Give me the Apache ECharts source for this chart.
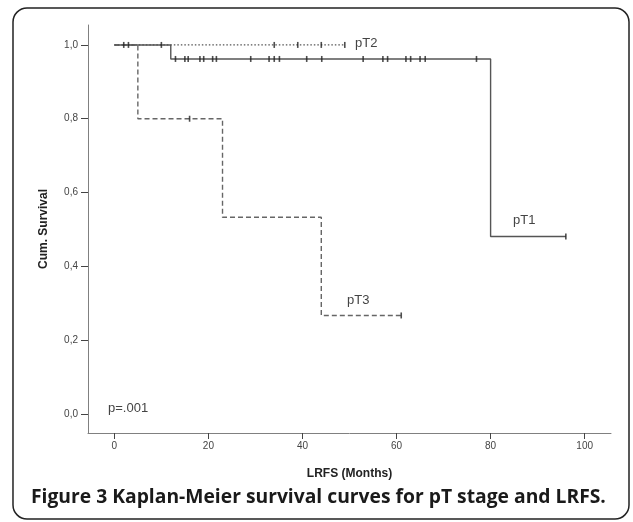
<!DOCTYPE html>
<html>
<head>
<meta charset="utf-8">
<script src="https://cdn.jsdelivr.net/npm/echarts@6/dist/echarts.min.js"></script>
<style>
  html, body { margin: 0; padding: 0; background: #fff; }
  #main { width: 633px; height: 522px; }
</style>
</head>
<body>
<div id="main"></div>
<script>
// KM step curves: time (months) and survival after that time
const pT1Times = [0, 12, 80, 96]
const pT1Surv = [1, 0.962, 0.481, 0.481]
const pT2Times = [0, 49]
const pT2Surv = [1, 1]
const pT3Times = [0, 5, 23, 44, 61]
const pT3Surv = [1, 0.8, 0.533, 0.267, 0.267]

// censored observations (months)
const pT1Censor = [2, 3, 10, 13, 15, 15.7, 18.2, 19, 20.9, 21.7, 29, 32.9, 34, 35.1, 40.9, 44.1, 52.9, 57.1, 58.1, 62, 63, 65, 66.1, 77, 96]
const pT2Censor = [34, 39, 44, 49]
const pT3Censor = [16, 61]

const xTicks = [0, 20, 40, 60, 80, 100]
const yTicks = [0, 0.2, 0.4, 0.6, 0.8, 1.0]

const curve = (times, surv) => times.map((t, i) => [t, surv[i]])

// survival value of a curve at time t (value of the step holding at t)
const survAt = (times, surv, t) => {
  let s = surv[0]
  times.forEach((tt, i) => { if (tt <= t) s = surv[i] })
  return s
}
const censorPts = (times, surv, cens) => cens.map((t) => [t, survAt(times, surv, t)])

const chart = echarts.init(document.getElementById('main'))

const axisGray = '#808080'
const censorStyle = {
  type: 'scatter',
  symbol: 'rect',
  symbolSize: [1.6, 6],
  itemStyle: { color: '#222' },
  z: 5,
  silent: true
}

chart.setOption({
  animation: false,
  grid: { left: 88, top: 25, right: 22, bottom: 89 },
  xAxis: {
    type: 'value',
    min: -5.6,
    max: 105.6,
    name: 'LRFS (Months)',
    nameLocation: 'middle',
    nameGap: 35,
    nameTextStyle: { fontFamily: 'Liberation Sans', fontWeight: 'bold', fontSize: 12, color: '#222' },
    axisLine: { onZero: false, lineStyle: { color: axisGray, width: 1 } },
    axisTick: { length: 6, customValues: xTicks, lineStyle: { color: '#444' } },
    axisLabel: { customValues: xTicks, fontFamily: 'Liberation Sans', fontSize: 10, color: '#444', margin: 8 },
    splitLine: { show: false }
  },
  yAxis: {
    type: 'value',
    min: -0.0515,
    max: 1.054,
    name: 'Cum. Survival',
    nameLocation: 'middle',
    nameGap: 38,
    nameTextStyle: { fontFamily: 'Liberation Sans', fontWeight: 'bold', fontSize: 12, color: '#222' },
    axisLine: { show: true, onZero: false, lineStyle: { color: axisGray, width: 1 } },
    axisTick: { show: true, length: 7, customValues: yTicks, lineStyle: { color: '#444' } },
    axisLabel: {
      customValues: yTicks,
      fontFamily: 'Liberation Sans',
      fontSize: 10,
      color: '#444',
      margin: 10,
      formatter: (v) => v.toFixed(1).replace('.', ',')
    },
    splitLine: { show: false }
  },
  series: [
    {
      name: 'pT2',
      type: 'line',
      step: 'end',
      data: curve(pT2Times, pT2Surv),
      showSymbol: false,
      lineStyle: { color: '#555', width: 1.2, type: [1.5, 2] },
      z: 2
    },
    {
      name: 'pT3',
      type: 'line',
      step: 'end',
      data: curve(pT3Times, pT3Surv),
      showSymbol: false,
      lineStyle: { color: '#666', width: 1.4, type: [5, 3] },
      z: 2
    },
    {
      name: 'pT1',
      type: 'line',
      step: 'end',
      data: curve(pT1Times, pT1Surv),
      showSymbol: false,
      lineStyle: { color: '#555', width: 1.4 },
      z: 3
    },
    Object.assign({ data: censorPts(pT1Times, pT1Surv, pT1Censor) }, censorStyle),
    Object.assign({ data: censorPts(pT2Times, pT2Surv, pT2Censor) }, censorStyle),
    Object.assign({ data: censorPts(pT3Times, pT3Surv, pT3Censor) }, censorStyle)
  ],
  graphic: [
    {
      type: 'rect',
      shape: { x: 13, y: 8, width: 616, height: 511, r: 14 },
      style: { fill: 'none', stroke: '#222', lineWidth: 1.5 },
      silent: true
    },
    {
      type: 'text', left: 355, top: 37,
      style: { text: 'pT2', font: '13px "Liberation Sans"', fill: '#444' }
    },
    {
      type: 'text', left: 513, top: 214,
      style: { text: 'pT1', font: '13px "Liberation Sans"', fill: '#444' }
    },
    {
      type: 'text', left: 347, top: 294,
      style: { text: 'pT3', font: '13px "Liberation Sans"', fill: '#444' }
    },
    {
      type: 'text', left: 108, top: 402,
      style: { text: 'p=.001', font: '13px "Liberation Sans"', fill: '#444' }
    },
    {
      type: 'text', left: 31, top: 488,
      style: {
        text: 'Figure 3 Kaplan-Meier survival curves for pT stage and LRFS.',
        font: 'bold 19.3px "Open Sans"',
        fill: '#1a1a1a'
      }
    }
  ]
})
</script>
</body>
</html>
